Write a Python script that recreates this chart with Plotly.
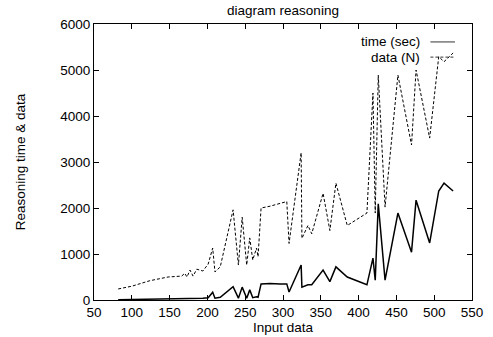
import plotly.graph_objects as go

# Input data (x) shared by both series
input_data = [82, 100, 124, 148, 166, 170, 173, 177, 181, 186, 194, 201, 207, 210, 217,
              234, 241, 246, 252, 256, 260, 265, 267, 271, 283, 296, 305, 308, 324, 325,
              333, 338, 353, 362, 370, 385, 411, 419, 422, 426, 435, 452, 470, 476, 494,
              506, 513, 525]
time_sec = [5, 8, 12, 20, 25, 30, 25, 30, 35, 35, 40, 50, 170, 40, 60,
            290, 40, 280, 40, 220, 50, 70, 60, 350, 360, 350, 350, 175, 760, 280,
            330, 330, 650, 400, 720, 500, 330, 910, 430, 2090, 430, 1890, 1040, 2170, 1240,
            2370, 2540, 2370]
data_n = [240, 300, 420, 500, 520, 580, 500, 650, 520, 670, 630, 780, 1130, 610, 720,
          1960, 760, 1800, 760, 1350, 870, 1130, 940, 2000, 2040, 2100, 2140, 1230, 3200, 1340,
          1620, 1440, 2320, 1510, 2540, 1620, 1890, 4500, 1890, 4890, 2020, 4890, 3370, 5000, 3520,
          5290, 5180, 5370]

x_ticks = [50, 100, 150, 200, 250, 300, 350, 400, 450, 500, 550]
y_ticks = [0, 1000, 2000, 3000, 4000, 5000, 6000]
series_names = ["time (sec)", "data (N)"]

FONT = "Liberation Sans, Arial, Helvetica, sans-serif"

fig = go.Figure()
fig.add_trace(go.Scatter(x=input_data, y=time_sec, mode="lines", name=series_names[0],
                         line=dict(color="black", width=1.5), showlegend=False))
fig.add_trace(go.Scatter(x=input_data, y=data_n, mode="lines", name=series_names[1],
                         line=dict(color="black", width=1, dash="3px,2px"), showlegend=False))

axis_common = dict(showgrid=False, zeroline=False, showline=True, linecolor="black",
                   linewidth=1, mirror="ticks", ticks="inside", ticklen=5,
                   tickcolor="black", automargin=False,
                   tickfont=dict(family=FONT, size=13.5, color="black"))

fig.update_xaxes(range=[50, 550], tickvals=x_ticks, ticktext=[str(v) for v in x_ticks],
                 title=dict(text="Input data", font=dict(family=FONT, size=13.5, color="black"),
                            standoff=0),
                 **axis_common)
fig.update_yaxes(range=[0, 6000], tickvals=y_ticks, ticktext=[str(v) for v in y_ticks],
                 title=dict(text="Reasoning time & data",
                            font=dict(family=FONT, size=13.5, color="black"), standoff=31),
                 **axis_common)

# gnuplot-style key: text right-aligned, sample to the right
key_y = [0.935, 0.88]
for name, ky, dash in zip(series_names, key_y, ["solid", "3px,2px"]):
    fig.add_annotation(x=0.868, y=ky, xref="paper", yref="paper", text=name,
                       showarrow=False, xanchor="right", yanchor="middle",
                       font=dict(family=FONT, size=13.5, color="black"))
    fig.add_shape(type="line", xref="paper", yref="paper", x0=0.89, x1=0.955, y0=ky, y1=ky,
                  line=dict(color="black", width=0.8, dash=dash))

fig.update_layout(
    width=493, height=337,
    margin=dict(l=94, r=21, t=24, b=37),
    paper_bgcolor="white", plot_bgcolor="white",
    title=dict(text="diagram reasoning", x=0.5, xref="paper", xanchor="center",
               y=0.97, yref="container", yanchor="middle",
               font=dict(family=FONT, size=13.5, color="black")),
    font=dict(family=FONT, size=13.5, color="black"),
)

fig.write_html("out.html", config={"displayModeBar": False},
               post_script="document.body.style.margin='0px';")
